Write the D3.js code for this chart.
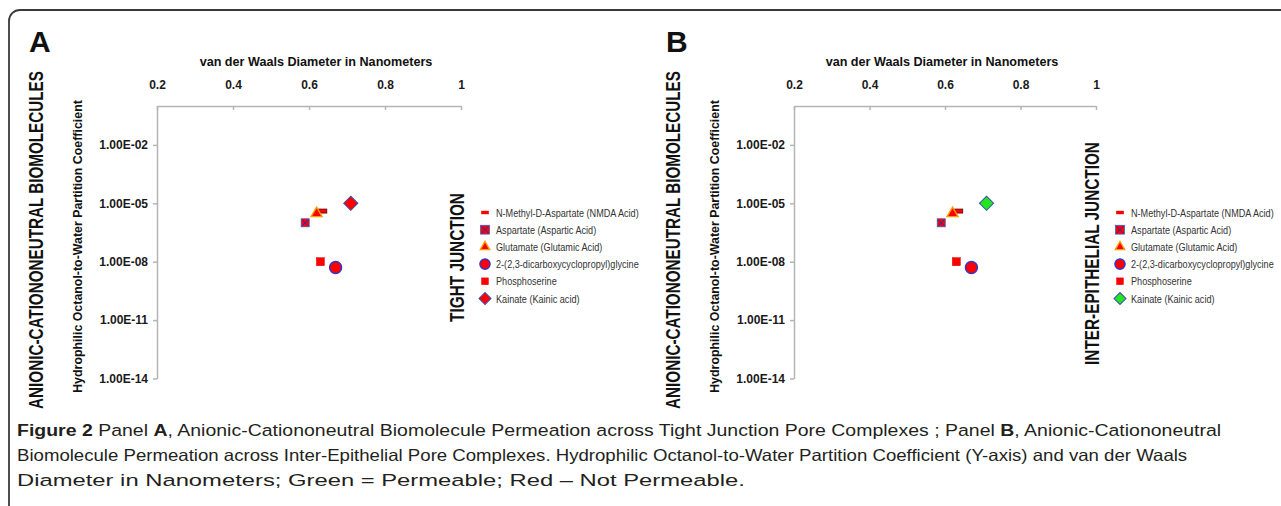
<!DOCTYPE html>
<html>
<head>
<meta charset="utf-8">
<script src="https://cdn.jsdelivr.net/npm/d3@7"></script>
<style>
    body { margin: 0; background: #fff; }
    svg { display: block; }
    text { font-family: 'Liberation Sans', Arial, sans-serif; }
</style>
</head>
<body>
<div id="fig"></div>
<script>
// values (same molecules in both panels)
const molecules = [
    'N-Methyl-D-Aspartate (NMDA Acid)',
    'Aspartate (Aspartic Acid)',
    'Glutamate (Glutamic Acid)',
    '2-(2,3-dicarboxycyclopropyl)glycine',
    'Phosphoserine',
    'Kainate (Kainic acid)'
];
const diameters = [0.635, 0.59, 0.62, 0.67, 0.63, 0.71];
const coefficients = [4e-6, 1e-6, 3e-6, 5e-9, 1e-8, 1e-5];

const xTicks = [0.2, 0.4, 0.6, 0.8, 1];
const xTickLabels = ['0.2', '0.4', '0.6', '0.8', '1'];
const yTicks = [1e-2, 1e-5, 1e-8, 1e-11, 1e-14];
const yTickLabels = ['1.00E-02', '1.00E-05', '1.00E-08', '1.00E-11', '1.00E-14'];

const panels = ['A', 'B'];
const junctions = ['TIGHT JUNCTION', 'INTER-EPITHELIAL JUNCTION'];
const kainateColors = ['#ff0000', '#22e61e'];

const narrow = "'Liberation Sans Narrow', 'DejaVu Sans Condensed', 'Liberation Sans', sans-serif";

const width = 1281;
const height = 506;

const svg = d3.select('#fig')
    .append('svg')
    .attr('width', width)
    .attr('height', height);

// outer frame, open to the right and bottom
svg.append('path')
    .attr('d', 'M9,' + (height + 5) + ' V21 A11,11 0 0 1 20,10 H' + (width + 5))
    .attr('fill', 'none')
    .attr('stroke', '#3a3a3a')
    .attr('stroke-width', 1.8);

// squeeze a text horizontally so it spans `len` pixels
let fitText = (t, pre, len) => {
    let natural = t.node().getComputedTextLength();
    t.attr('transform', `${pre} scale(${len / natural},1)`);
    return t;
};

function drawMarker(g, i, cx, cy, k, kainateFill) {
    let red = '#ff0000';
    if (i === 0) {
        let w = 9 * k, h = 4 * k;
        g.append('rect')
            .attr('x', cx - w / 2).attr('y', cy - h / 2)
            .attr('width', w).attr('height', h)
            .attr('fill', red)
            .attr('stroke', k < 1 ? 'none' : '#5a0000')
            .attr('stroke-width', 0.8);
    } else if (i === 1) {
        let s = 8 * k;
        g.append('rect')
            .attr('x', cx - s / 2).attr('y', cy - s / 2)
            .attr('width', s).attr('height', s)
            .attr('fill', red)
            .attr('stroke', '#4455bb')
            .attr('stroke-width', 0.8);
        g.append('path')
            .attr('d', `M${cx - s / 2 + 1},${cy - s / 2 + 1}L${cx + s / 2 - 1},${cy + s / 2 - 1}M${cx + s / 2 - 1},${cy - s / 2 + 1}L${cx - s / 2 + 1},${cy + s / 2 - 1}`)
            .attr('stroke', '#2233aa')
            .attr('stroke-width', 1);
    } else if (i === 2) {
        let side = 11 * k;
        g.append('path')
            .attr('d', d3.symbol(d3.symbolTriangle, Math.sqrt(3) / 4 * side * side)())
            .attr('transform', `translate(${cx},${cy})`)
            .attr('fill', red)
            .attr('stroke', '#ff9a00')
            .attr('stroke-width', 1.4);
    } else if (i === 3) {
        g.append('circle')
            .attr('cx', cx).attr('cy', cy)
            .attr('r', 6 * k)
            .attr('fill', red)
            .attr('stroke', '#3333cc')
            .attr('stroke-width', 1.4);
    } else if (i === 4) {
        let s = 8 * k;
        g.append('rect')
            .attr('x', cx - s / 2).attr('y', cy - s / 2)
            .attr('width', s).attr('height', s)
            .attr('fill', red)
            .attr('stroke', '#dd0000')
            .attr('stroke-width', 0.5);
    } else {
        let s = 10 * k;
        g.append('path')
            .attr('d', d3.symbol(d3.symbolSquare, s * s)())
            .attr('transform', `translate(${cx},${cy}) rotate(45)`)
            .attr('fill', kainateFill)
            .attr('stroke', '#3a4fb0')
            .attr('stroke-width', 1);
    }
}

function renderPanel(p, opts) {
    let x = d3.scaleLinear()
        .domain([0.2, 1])
        .range([opts.left, opts.right]);

    let y = d3.scaleLog()
        .domain([1e-14, 1])
        .range([378.5, 106]);

    let g = svg.append('g');

    // panel letter
    g.append('text')
        .attr('x', opts.left - 128)
        .attr('y', 52)
        .attr('font-size', 30)
        .attr('font-weight', 'bold')
        .attr('fill', '#111')
        .text(panels[p]);

    // big left label
    fitText(g.append('text')
        .attr('text-anchor', 'middle')
        .attr('font-family', narrow)
        .attr('font-size', 20)
        .attr('font-weight', 'bold')
        .attr('fill', '#111')
        .text('ANIONIC-CATIONONEUTRAL BIOMOLECULES'),
        `translate(${opts.left - 114},240) rotate(-90)`, 338);

    // y title
    fitText(g.append('text')
        .attr('text-anchor', 'middle')
        .attr('font-family', "'Open Sans', sans-serif")
        .attr('font-size', 12)
        .attr('font-weight', 'bold')
        .attr('fill', '#111')
        .text('Hydrophilic Octanol-to-Water Partition Coefficient'),
        `translate(${opts.left - 75},246.5) rotate(-90)`, 293);

    // x title
    fitText(g.append('text')
        .attr('text-anchor', 'middle')
        .attr('font-family', narrow)
        .attr('font-size', 13.5)
        .attr('font-weight', 'bold')
        .attr('fill', '#111')
        .text('van der Waals Diameter in Nanometers'),
        `translate(${opts.titleX},66)`, 233);

    let xAxis = (ax) => ax
        .attr('transform', 'translate(0,106)')
        .call(d3.axisTop(x)
            .tickValues(xTicks)
            .tickFormat((d, i) => xTickLabels[i])
            .tickSizeInner(-4)
            .tickSizeOuter(0)
            .tickPadding(17));

    let yAxis = (ax) => ax
        .attr('transform', `translate(${opts.left},0)`)
        .call(d3.axisLeft(y)
            .tickValues(yTicks)
            .tickFormat((d, i) => yTickLabels[i])
            .tickSize(4)
            .tickSizeOuter(0)
            .tickPadding(5));

    [g.append('g').call(xAxis), g.append('g').call(yAxis)].forEach(ax => {
        ax.selectAll('path, line')
            .attr('stroke', '#b5b5b5')
            .attr('stroke-width', 1.5);
        ax.selectAll('text')
            .attr('font-family', "'Liberation Sans', Arial, sans-serif")
            .attr('font-size', 12)
            .attr('font-weight', 'bold')
            .attr('fill', '#1a1a1a');
    });

    // points
    let pts = g.append('g');
    molecules.forEach((m, i) => {
        drawMarker(pts, i, x(diameters[i]), y(coefficients[i]), 1, kainateColors[p]);
    });

    // junction title
    fitText(g.append('text')
        .attr('text-anchor', 'middle')
        .attr('dy', '0.36em')
        .attr('font-family', narrow)
        .attr('font-size', 21)
        .attr('font-weight', 'bold')
        .attr('fill', '#111')
        .text(junctions[p]),
        `translate(${opts.junctionX},${opts.junctionY}) rotate(-90)`, opts.junctionLen);

    // legend, squeezed to the condensed width of the original
    let legend = g.append('g');
    let labels = [];
    molecules.forEach((m, i) => {
        let ly = 212.5 + i * 17.2;
        drawMarker(legend, i, opts.legendX, ly, i === 1 ? 1.1 : 0.85, kainateColors[p]);
        labels.push({ ly: ly, t: legend.append('text')
            .attr('dy', '0.35em')
            .attr('font-family', narrow)
            .attr('font-size', 11.5)
            .attr('fill', '#333')
            .text(m) });
    });
    let longest = d3.max(labels, o => o.t.node().getComputedTextLength());
    let squeeze = Math.min(1, 143 / longest);
    labels.forEach(o => {
        o.t.attr('transform', `translate(${opts.legendX + 11},${o.ly}) scale(${squeeze},1)`);
    });
}

renderPanel(0, {
    left: 157, right: 461, titleX: 316,
    junctionX: 456, junctionY: 257.5, junctionLen: 129,
    legendX: 485
});
renderPanel(1, {
    left: 794, right: 1096, titleX: 942,
    junctionX: 1091, junctionY: 253.5, junctionLen: 223,
    legendX: 1120
});

// caption
const captionLines = [
    [['Figure 2', true], [' Panel ', false], ['A', true], [', Anionic-Cationoneutral Biomolecule Permeation across Tight Junction Pore Complexes ; Panel ', false], ['B', true], [', Anionic-Cationoneutral', false]],
    [['Biomolecule Permeation across Inter-Epithelial Pore Complexes. Hydrophilic Octanol-to-Water Partition Coefficient (Y-axis) and van der Waals', false]],
    [['Diameter in Nanometers; Green = Permeable; Red \u2013 Not Permeable.', false]]
];
const captionWidths = [1205, 1171, 728];

captionLines.forEach((line, li) => {
    let t = svg.append('text')
        .attr('font-family', "'Open Sans', sans-serif")
        .attr('font-size', 16.5)
        .attr('fill', '#231f20');
    line.forEach(([s, b]) => {
        t.append('tspan')
            .attr('font-weight', b ? 'bold' : 'normal')
            .text(s);
    });
    fitText(t, `translate(17,${436 + li * 25})`, captionWidths[li]);
});
</script>
</body>
</html>
